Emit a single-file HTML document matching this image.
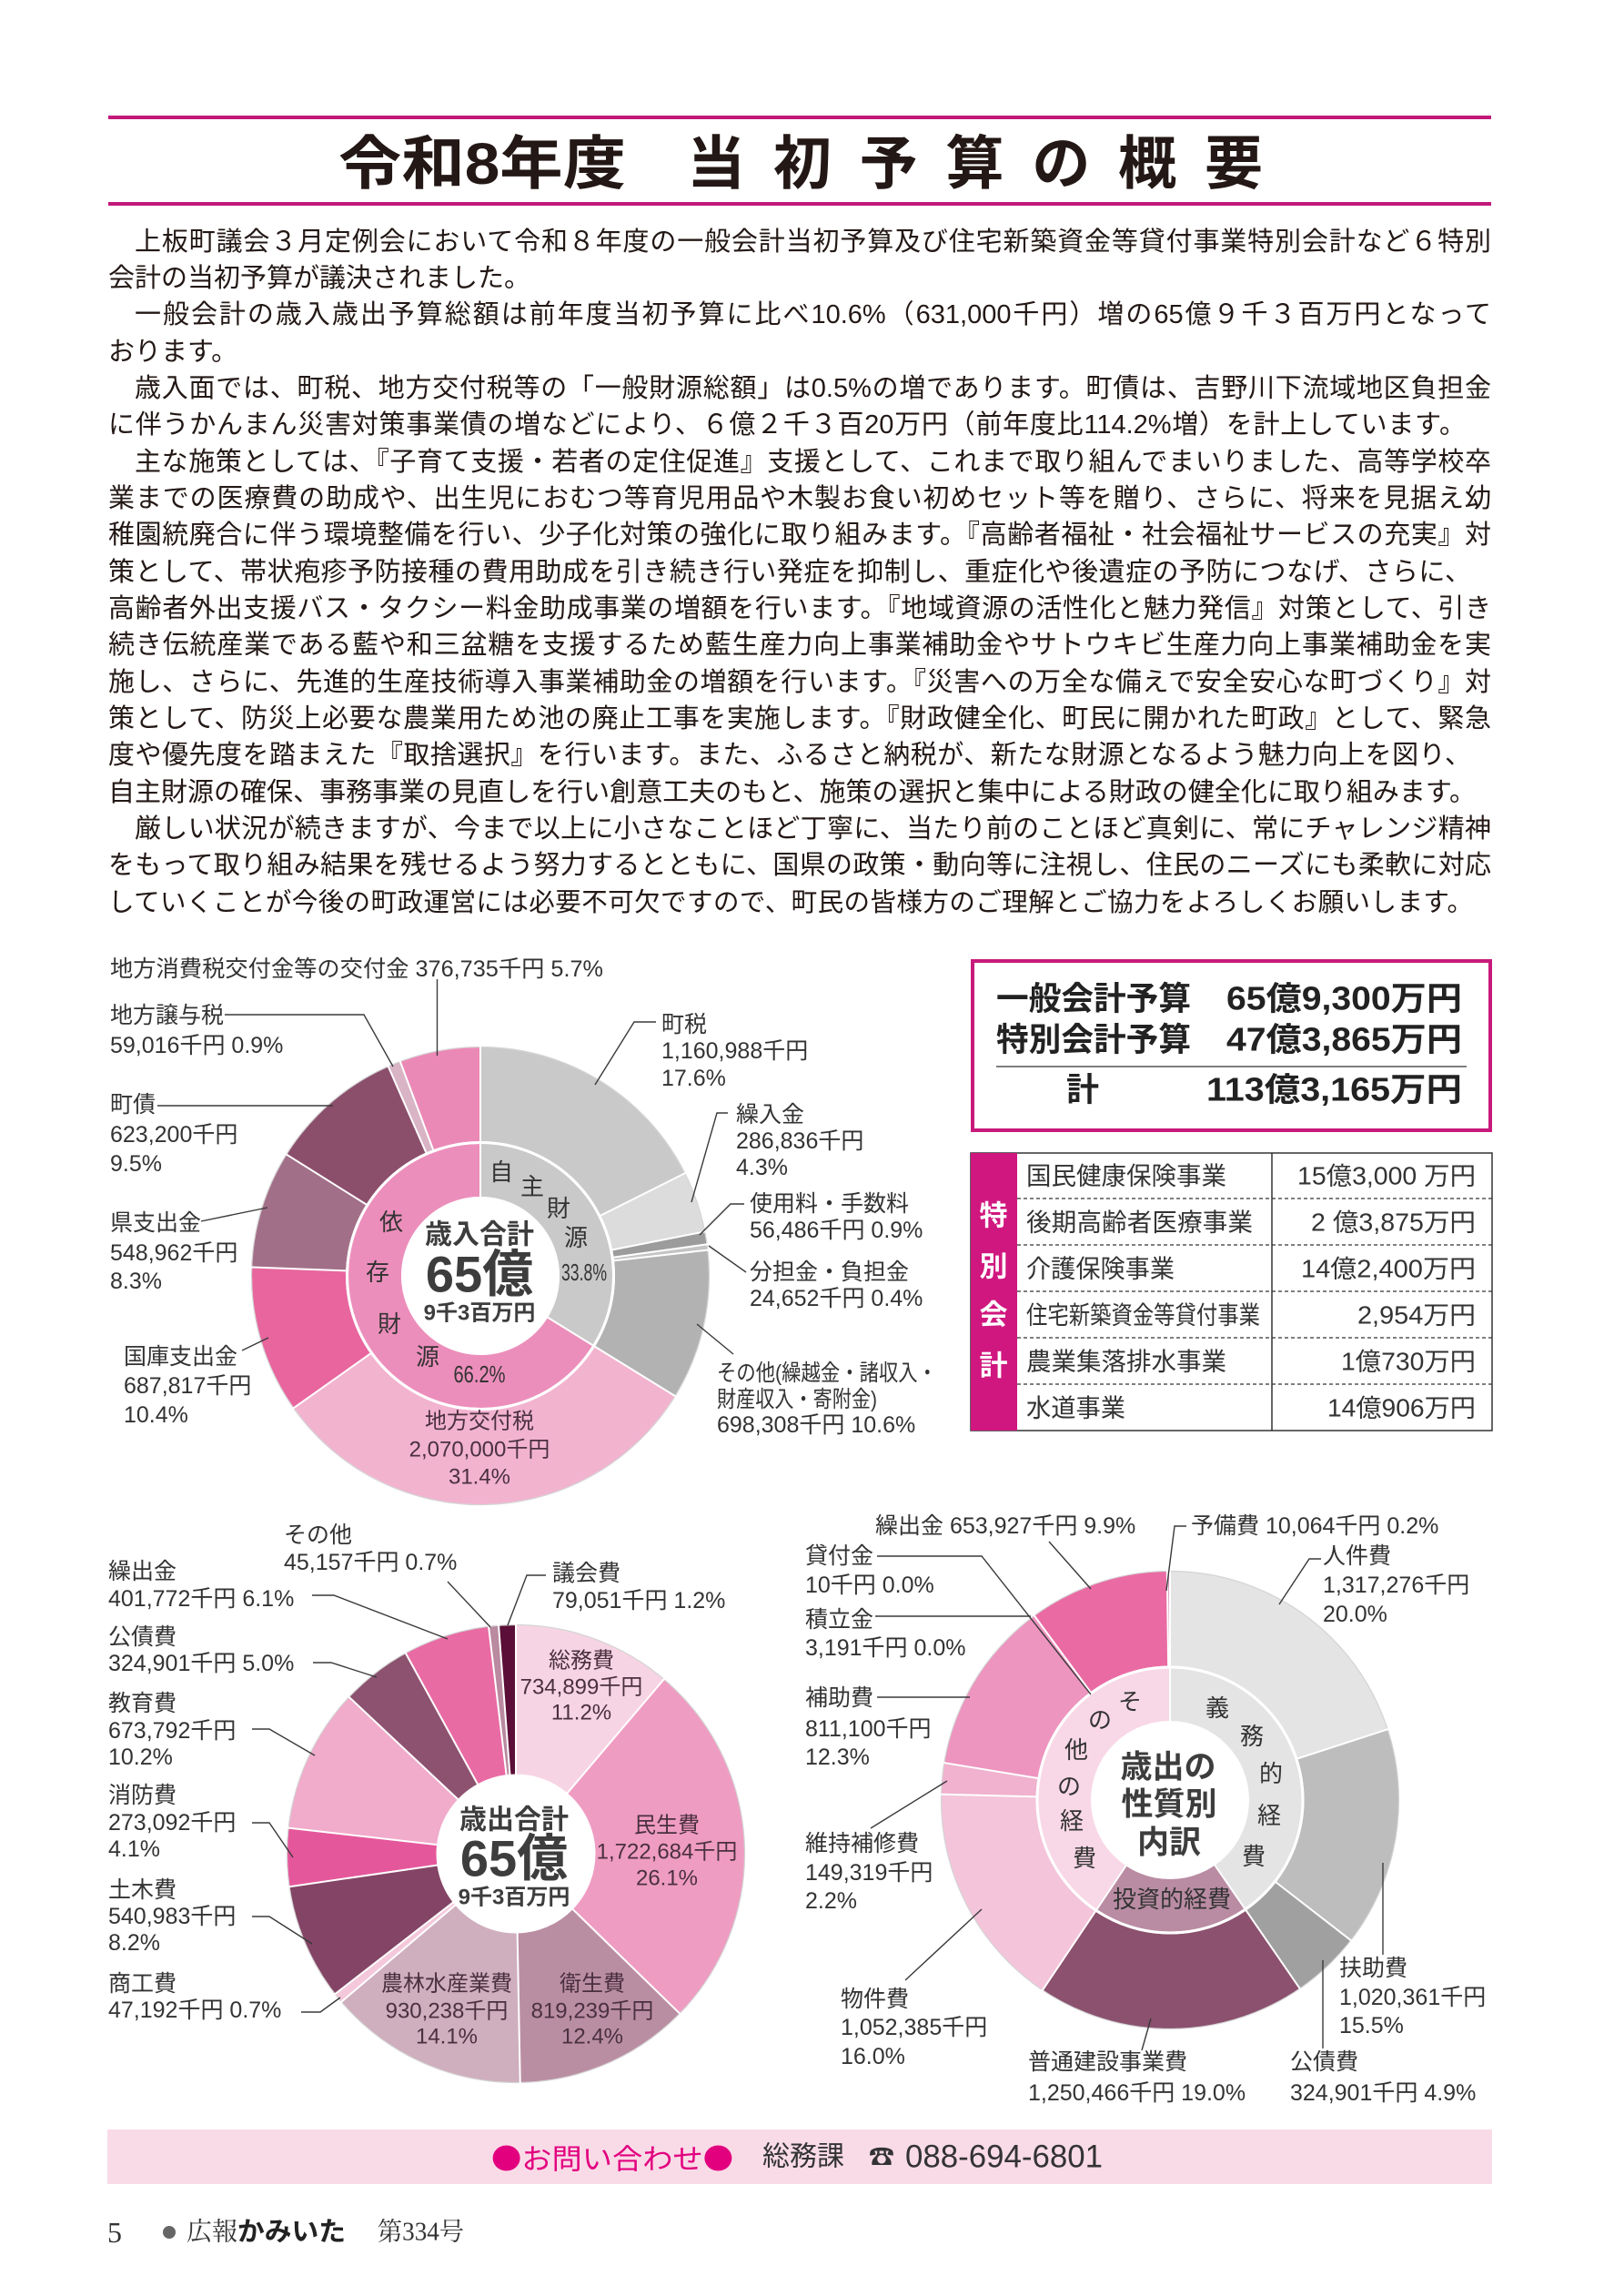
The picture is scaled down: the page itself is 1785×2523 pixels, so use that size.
<!DOCTYPE html>
<html lang="ja"><head><meta charset="utf-8">
<style>
html,body{margin:0;padding:0;background:#fff;}
body{width:1785px;height:2523px;position:relative;overflow:hidden;}
svg{position:absolute;left:0;top:0;}
svg text{font-family:"Liberation Sans","Noto Sans CJK JP",sans-serif;dominant-baseline:central;}
.lb{font-size:25px;fill:#333;}
.il{font-size:24px;fill:#4a3040;text-anchor:middle;}
.rt{font-size:26px;fill:#333;text-anchor:middle;}
.ct{font-weight:bold;fill:#3d3d3d;text-anchor:middle;}
.body{position:absolute;left:119px;top:245.5px;width:1520px;font-family:"Liberation Sans","Noto Sans CJK JP",sans-serif;font-size:29px;line-height:40.35px;color:#231815;}
.body div{height:40.35px;overflow:visible;}
.j{text-align:justify;text-align-last:justify;}
.i{padding-left:29px;}
</style></head><body>
<svg width="1785" height="2523" viewBox="0 0 1785 2523">
<!-- title -->
<rect x="119" y="127" width="1520" height="4" fill="#c2187a"/>
<rect x="119" y="222" width="1520" height="4" fill="#c2187a"/>
<text x="372" y="180" font-size="64" font-weight="bold" fill="#231815" textLength="316" lengthAdjust="spacingAndGlyphs">令和8年度</text>
<text x="755" y="180" font-size="64" font-weight="bold" fill="#231815" textLength="633" lengthAdjust="spacing">当初予算の概要</text>

<!-- ===== Chart 1 (歳入) ===== -->
<g transform="rotate(-90 528 1402)" fill="none" stroke-width="103">
<circle cx="528" cy="1402" r="199.5" pathLength="100" stroke="#c9c9ca" stroke-dasharray="0 0 17.6 100"/>
<circle cx="528" cy="1402" r="199.5" pathLength="100" stroke="#dcdcdd" stroke-dasharray="0 17.6 4.3 100"/>
<circle cx="528" cy="1402" r="199.5" pathLength="100" stroke="#9c9c9c" stroke-dasharray="0 21.9 0.9 100"/>
<circle cx="528" cy="1402" r="199.5" pathLength="100" stroke="#c4c4c4" stroke-dasharray="0 22.8 0.4 100"/>
<circle cx="528" cy="1402" r="199.5" pathLength="100" stroke="#b2b2b3" stroke-dasharray="0 23.2 10.6 100"/>
<circle cx="528" cy="1402" r="199.5" pathLength="100" stroke="#f2b3cf" stroke-dasharray="0 33.8 31.4 100"/>
<circle cx="528" cy="1402" r="199.5" pathLength="100" stroke="#e8659e" stroke-dasharray="0 65.2 10.4 100"/>
<circle cx="528" cy="1402" r="199.5" pathLength="100" stroke="#a26f88" stroke-dasharray="0 75.6 8.3 100"/>
<circle cx="528" cy="1402" r="199.5" pathLength="100" stroke="#8b4f6c" stroke-dasharray="0 83.9 9.5 100"/>
<circle cx="528" cy="1402" r="199.5" pathLength="100" stroke="#d8b4c4" stroke-dasharray="0 93.4 0.9 100"/>
<circle cx="528" cy="1402" r="199.5" pathLength="100" stroke="#eb89b6" stroke-dasharray="0 94.3 5.7 100"/>
<circle cx="528" cy="1402" r="116" stroke-width="58" pathLength="100" stroke="#c9c9ca" stroke-dasharray="0 0 33.8 100"/>
<circle cx="528" cy="1402" r="116" stroke-width="58" pathLength="100" stroke="#ec8ebb" stroke-dasharray="0 33.8 66.2 100"/>
</g>
<circle cx="528" cy="1402" r="251.5" fill="none" stroke="#d4d4d4" stroke-width="1.2"/>
<g stroke="#fff" stroke-width="2">
<line x1="528" y1="1254" x2="528" y2="1148"/>
<line x1="528" y1="1254" x2="528" y2="1148" transform="rotate(63.36 528 1402)"/>
<line x1="528" y1="1254" x2="528" y2="1148" transform="rotate(78.84 528 1402)"/>
<line x1="528" y1="1254" x2="528" y2="1148" transform="rotate(82.08 528 1402)"/>
<line x1="528" y1="1254" x2="528" y2="1148" transform="rotate(83.52 528 1402)"/>
<line x1="528" y1="1254" x2="528" y2="1148" transform="rotate(121.68 528 1402)"/>
<line x1="528" y1="1254" x2="528" y2="1148" transform="rotate(234.72 528 1402)"/>
<line x1="528" y1="1254" x2="528" y2="1148" transform="rotate(272.16 528 1402)"/>
<line x1="528" y1="1254" x2="528" y2="1148" transform="rotate(302.04 528 1402)"/>
<line x1="528" y1="1254" x2="528" y2="1148" transform="rotate(336.24 528 1402)"/>
<line x1="528" y1="1254" x2="528" y2="1148" transform="rotate(339.48 528 1402)"/>
<line x1="528" y1="1317" x2="528" y2="1254"/>
<line x1="528" y1="1317" x2="528" y2="1254" transform="rotate(121.68 528 1402)"/>
</g>
<circle cx="528" cy="1402" r="146.5" fill="none" stroke="#fff" stroke-width="3"/>
<circle cx="528" cy="1402" r="87" fill="#fff"/>
<!-- chart1 center -->
<text class="ct" x="527" y="1357" font-size="30">歳入合計</text>
<text class="ct" x="527" y="1400" font-size="56">65億</text>
<text class="ct" x="527" y="1443" font-size="24">9千3百万円</text>
<!-- chart1 ring text -->
<text class="rt" x="551" y="1288">自</text>
<text class="rt" x="585" y="1304">主</text>
<text class="rt" x="614" y="1328">財</text>
<text class="rt" x="633" y="1360">源</text>
<text class="rt" x="642" y="1398" font-size="21" textLength="50" lengthAdjust="spacingAndGlyphs">33.8%</text>
<text class="rt" x="430" y="1343" fill="#4a1d33">依</text>
<text class="rt" x="415" y="1398" fill="#4a1d33">存</text>
<text class="rt" x="428" y="1455" fill="#4a1d33">財</text>
<text class="rt" x="470" y="1491" fill="#4a1d33">源</text>
<text class="rt" x="527" y="1510" font-size="21" fill="#4a1d33" textLength="57" lengthAdjust="spacingAndGlyphs">66.2%</text>
<text class="il" x="527" y="1562">地方交付税</text>
<text class="il" x="527" y="1593">2,070,000千円</text>
<text class="il" x="527" y="1623">31.4%</text>
<!-- chart1 labels -->
<g class="lb">
<text class="lb" x="121" y="1065" textLength="542" lengthAdjust="spacingAndGlyphs">地方消費税交付金等の交付金 376,735千円 5.7%</text>
<text class="lb" x="121" y="1116">地方譲与税</text>
<text class="lb" x="121" y="1149">59,016千円 0.9%</text>
<text class="lb" x="121" y="1214">町債</text>
<text class="lb" x="121" y="1247">623,200千円</text>
<text class="lb" x="121" y="1279">9.5%</text>
<text class="lb" x="121" y="1344">県支出金</text>
<text class="lb" x="121" y="1377">548,962千円</text>
<text class="lb" x="121" y="1408">8.3%</text>
<text class="lb" x="136" y="1491">国庫支出金</text>
<text class="lb" x="136" y="1523">687,817千円</text>
<text class="lb" x="136" y="1555">10.4%</text>
<text class="lb" x="727" y="1126">町税</text>
<text class="lb" x="727" y="1155">1,160,988千円</text>
<text class="lb" x="727" y="1185">17.6%</text>
<text class="lb" x="809" y="1225">繰入金</text>
<text class="lb" x="809" y="1254">286,836千円</text>
<text class="lb" x="809" y="1283">4.3%</text>
<text class="lb" x="824" y="1323">使用料・手数料</text>
<text class="lb" x="824" y="1352">56,486千円 0.9%</text>
<text class="lb" x="824" y="1398">分担金・負担金</text>
<text class="lb" x="824" y="1427">24,652千円 0.4%</text>
<text class="lb" x="788" y="1509" textLength="242" lengthAdjust="spacingAndGlyphs">その他(繰越金・諸収入・</text>
<text class="lb" x="788" y="1538" textLength="176" lengthAdjust="spacingAndGlyphs">財産収入・寄附金)</text>
<text class="lb" x="788" y="1566">698,308千円 10.6%</text>
</g>
<g fill="none" stroke="#3a3a3a" stroke-width="1.4">
<path d="M480.5 1076V1160"/>
<path d="M247 1115H400L432 1172"/>
<path d="M173 1215H366"/>
<path d="M221 1342L294 1327"/>
<path d="M266 1484L295 1470"/>
<path d="M721 1123H697L654 1192"/>
<path d="M800 1223H788L760 1321"/>
<path d="M818 1323H803L769 1357"/>
<path d="M820 1398L779 1369"/>
<path d="M806 1488L766 1455"/>
</g>

<!-- ===== Summary box ===== -->
<rect x="1069" y="1056" width="569" height="186" fill="#fff" stroke="#c81a7c" stroke-width="4"/>
<g font-weight="bold" fill="#222" font-size="36">
<text x="1095" y="1097" textLength="214" lengthAdjust="spacingAndGlyphs">一般会計予算</text>
<text x="1348" y="1097" textLength="259" lengthAdjust="spacingAndGlyphs">65億9,300万円</text>
<text x="1095" y="1142" textLength="214" lengthAdjust="spacingAndGlyphs">特別会計予算</text>
<text x="1348" y="1142" textLength="259" lengthAdjust="spacingAndGlyphs">47億3,865万円</text>
<text x="1172" y="1197">計</text>
<text x="1326" y="1197" textLength="281" lengthAdjust="spacingAndGlyphs">113億3,165万円</text>
</g>
<line x1="1095" y1="1172" x2="1612" y2="1172" stroke="#333" stroke-width="1.2"/>

<!-- ===== Special accounts table ===== -->
<rect x="1067" y="1267" width="573" height="305" fill="#fff" stroke="#333" stroke-width="1.5"/>
<rect x="1067" y="1267" width="51" height="305" fill="#d0177f"/>
<line x1="1398" y1="1267" x2="1398" y2="1572" stroke="#333" stroke-width="1.5"/>
<g stroke="#333" stroke-width="1.3" stroke-dasharray="4 3">
<line x1="1118" y1="1317" x2="1640" y2="1317"/>
<line x1="1118" y1="1368" x2="1640" y2="1368"/>
<line x1="1118" y1="1419" x2="1640" y2="1419"/>
<line x1="1118" y1="1470" x2="1640" y2="1470"/>
<line x1="1118" y1="1521" x2="1640" y2="1521"/>
</g>
<g font-weight="bold" fill="#fff" font-size="31" text-anchor="middle">
<text x="1092" y="1336">特</text>
<text x="1092" y="1392">別</text>
<text x="1092" y="1445">会</text>
<text x="1092" y="1501">計</text>
</g>
<g font-size="27.5" fill="#333">
<text x="1128" y="1292" textLength="220" lengthAdjust="spacingAndGlyphs">国民健康保険事業</text>
<text x="1128" y="1343" textLength="249" lengthAdjust="spacingAndGlyphs">後期高齢者医療事業</text>
<text x="1128" y="1394" textLength="163" lengthAdjust="spacingAndGlyphs">介護保険事業</text>
<text x="1128" y="1445" textLength="257" lengthAdjust="spacingAndGlyphs">住宅新築資金等貸付事業</text>
<text x="1128" y="1496" textLength="220" lengthAdjust="spacingAndGlyphs">農業集落排水事業</text>
<text x="1128" y="1547" textLength="109" lengthAdjust="spacingAndGlyphs">水道事業</text>
<text x="1426" y="1292" textLength="196" lengthAdjust="spacingAndGlyphs">15億3,000 万円</text>
<text x="1441" y="1343" textLength="181" lengthAdjust="spacingAndGlyphs">2 億3,875万円</text>
<text x="1430" y="1394" textLength="192" lengthAdjust="spacingAndGlyphs">14億2,400万円</text>
<text x="1492" y="1445" textLength="130" lengthAdjust="spacingAndGlyphs">2,954万円</text>
<text x="1474" y="1496" textLength="148" lengthAdjust="spacingAndGlyphs">1億730万円</text>
<text x="1459" y="1547" textLength="163" lengthAdjust="spacingAndGlyphs">14億906万円</text>
</g>

<!-- ===== Chart 2 (歳出 目的別) ===== -->
<g transform="rotate(-90 567 2037)" fill="none" stroke-width="164">
<circle cx="567" cy="2037" r="169.5" pathLength="100" stroke="#f7d4e3" stroke-dasharray="0 0 11.2 100"/>
<circle cx="567" cy="2037" r="169.5" pathLength="100" stroke="#ef9cc2" stroke-dasharray="0 11.2 26.1 100"/>
<circle cx="567" cy="2037" r="169.5" pathLength="100" stroke="#ba8ea2" stroke-dasharray="0 37.3 12.4 100"/>
<circle cx="567" cy="2037" r="169.5" pathLength="100" stroke="#cfaebd" stroke-dasharray="0 49.7 14.1 100"/>
<circle cx="567" cy="2037" r="169.5" pathLength="100" stroke="#f4c8da" stroke-dasharray="0 63.8 0.7 100"/>
<circle cx="567" cy="2037" r="169.5" pathLength="100" stroke="#834465" stroke-dasharray="0 64.5 8.2 100"/>
<circle cx="567" cy="2037" r="169.5" pathLength="100" stroke="#e5579b" stroke-dasharray="0 72.7 4.1 100"/>
<circle cx="567" cy="2037" r="169.5" pathLength="100" stroke="#f1abcb" stroke-dasharray="0 76.8 10.2 100"/>
<circle cx="567" cy="2037" r="169.5" pathLength="100" stroke="#8d5270" stroke-dasharray="0 87 5 100"/>
<circle cx="567" cy="2037" r="169.5" pathLength="100" stroke="#e96ba4" stroke-dasharray="0 92 6.1 100"/>
<circle cx="567" cy="2037" r="169.5" pathLength="100" stroke="#b98aa0" stroke-dasharray="0 98.1 0.7 100"/>
<circle cx="567" cy="2037" r="169.5" pathLength="100" stroke="#5b0e37" stroke-dasharray="0 98.8 1.2 100"/>
</g>
<circle cx="567" cy="2037" r="251.5" fill="none" stroke="#d4d4d4" stroke-width="1.2"/>
<g stroke="#fff" stroke-width="2">
<line x1="567" y1="1951" x2="567" y2="1783"/>
<line x1="567" y1="1951" x2="567" y2="1783" transform="rotate(40.32 567 2037)"/>
<line x1="567" y1="1951" x2="567" y2="1783" transform="rotate(134.28 567 2037)"/>
<line x1="567" y1="1951" x2="567" y2="1783" transform="rotate(178.92 567 2037)"/>
<line x1="567" y1="1951" x2="567" y2="1783" transform="rotate(229.68 567 2037)"/>
<line x1="567" y1="1951" x2="567" y2="1783" transform="rotate(232.2 567 2037)"/>
<line x1="567" y1="1951" x2="567" y2="1783" transform="rotate(261.72 567 2037)"/>
<line x1="567" y1="1951" x2="567" y2="1783" transform="rotate(276.48 567 2037)"/>
<line x1="567" y1="1951" x2="567" y2="1783" transform="rotate(313.2 567 2037)"/>
<line x1="567" y1="1951" x2="567" y2="1783" transform="rotate(331.2 567 2037)"/>
<line x1="567" y1="1951" x2="567" y2="1783" transform="rotate(353.16 567 2037)"/>
<line x1="567" y1="1951" x2="567" y2="1783" transform="rotate(355.68 567 2037)"/>
</g>
<circle cx="567" cy="2037" r="86" fill="#fff"/>
<text class="ct" x="565" y="2000" font-size="30">歳出合計</text>
<text class="ct" x="565" y="2042" font-size="56">65億</text>
<text class="ct" x="565" y="2085" font-size="24">9千3百万円</text>
<text class="il" x="639" y="1825">総務費</text>
<text class="il" x="639" y="1854">734,899千円</text>
<text class="il" x="639" y="1882">11.2%</text>
<text class="il" x="733" y="2006">民生費</text>
<text class="il" x="733" y="2035">1,722,684千円</text>
<text class="il" x="733" y="2064">26.1%</text>
<text class="il" x="651" y="2180">衛生費</text>
<text class="il" x="651" y="2210">819,239千円</text>
<text class="il" x="651" y="2238">12.4%</text>
<text class="il" x="491" y="2180">農林水産業費</text>
<text class="il" x="491" y="2210">930,238千円</text>
<text class="il" x="491" y="2238">14.1%</text>
<text class="lb" x="312" y="1687">その他</text>
<text class="lb" x="312" y="1717">45,157千円 0.7%</text>
<text class="lb" x="607" y="1729">議会費</text>
<text class="lb" x="607" y="1759">79,051千円 1.2%</text>
<text class="lb" x="119" y="1727">繰出金</text>
<text class="lb" x="119" y="1757">401,772千円 6.1%</text>
<text class="lb" x="119" y="1799">公債費</text>
<text class="lb" x="119" y="1828">324,901千円 5.0%</text>
<text class="lb" x="119" y="1872">教育費</text>
<text class="lb" x="119" y="1902">673,792千円</text>
<text class="lb" x="119" y="1931">10.2%</text>
<text class="lb" x="119" y="1973">消防費</text>
<text class="lb" x="119" y="2003">273,092千円</text>
<text class="lb" x="119" y="2032">4.1%</text>
<text class="lb" x="119" y="2077">土木費</text>
<text class="lb" x="119" y="2106">540,983千円</text>
<text class="lb" x="119" y="2135">8.2%</text>
<text class="lb" x="119" y="2180">商工費</text>
<text class="lb" x="119" y="2209">47,192千円 0.7%</text>
<g fill="none" stroke="#3a3a3a" stroke-width="1.4">
<path d="M492 1738L539 1788"/>
<path d="M600 1731H579L558 1786"/>
<path d="M343 1753H367L492 1801"/>
<path d="M344 1827H364L414 1843"/>
<path d="M277 1900H296L346 1929"/>
<path d="M277 2003H296L322 2041"/>
<path d="M277 2106H296L343 2136"/>
<path d="M331 2211H352L374 2195"/>
</g>

<!-- ===== Chart 3 (性質別) ===== -->
<g transform="rotate(-90 1286 1978)" fill="none" stroke-width="104">
<circle cx="1286" cy="1978" r="199.5" pathLength="100" stroke="#e4e4e4" stroke-dasharray="0 0 20 100"/>
<circle cx="1286" cy="1978" r="199.5" pathLength="100" stroke="#bdbdbe" stroke-dasharray="0 20 15.5 100"/>
<circle cx="1286" cy="1978" r="199.5" pathLength="100" stroke="#a0a0a0" stroke-dasharray="0 35.5 4.9 100"/>
<circle cx="1286" cy="1978" r="199.5" pathLength="100" stroke="#8b516e" stroke-dasharray="0 40.4 19 100"/>
<circle cx="1286" cy="1978" r="199.5" pathLength="100" stroke="#f4c4da" stroke-dasharray="0 59.4 16 100"/>
<circle cx="1286" cy="1978" r="199.5" pathLength="100" stroke="#f0b2ce" stroke-dasharray="0 75.4 2.2 100"/>
<circle cx="1286" cy="1978" r="199.5" pathLength="100" stroke="#ed94bf" stroke-dasharray="0 77.6 12.3 100"/>
<circle cx="1286" cy="1978" r="199.5" pathLength="100" stroke="#ea6ba4" stroke-dasharray="0 89.9 9.9 100"/>
<circle cx="1286" cy="1978" r="199.5" pathLength="100" stroke="#d99abb" stroke-dasharray="0 99.8 0.2 100"/>
<circle cx="1286" cy="1978" r="115.5" stroke-width="58" pathLength="100" stroke="#e4e4e4" stroke-dasharray="0 0 40.4 100"/>
<circle cx="1286" cy="1978" r="115.5" stroke-width="58" pathLength="100" stroke="#b98ca3" stroke-dasharray="0 40.4 19 100"/>
<circle cx="1286" cy="1978" r="115.5" stroke-width="58" pathLength="100" stroke="#f8d8e6" stroke-dasharray="0 59.4 40.6 100"/>
</g>
<circle cx="1286" cy="1978" r="251.5" fill="none" stroke="#d4d4d4" stroke-width="1.2"/>
<g stroke="#fff" stroke-width="2">
<line x1="1286" y1="1832" x2="1286" y2="1724"/>
<line x1="1286" y1="1832" x2="1286" y2="1724" transform="rotate(72 1286 1978)"/>
<line x1="1286" y1="1832" x2="1286" y2="1724" transform="rotate(127.8 1286 1978)"/>
<line x1="1286" y1="1832" x2="1286" y2="1724" transform="rotate(145.44 1286 1978)"/>
<line x1="1286" y1="1832" x2="1286" y2="1724" transform="rotate(213.84 1286 1978)"/>
<line x1="1286" y1="1832" x2="1286" y2="1724" transform="rotate(271.44 1286 1978)"/>
<line x1="1286" y1="1832" x2="1286" y2="1724" transform="rotate(279.36 1286 1978)"/>
<line x1="1286" y1="1832" x2="1286" y2="1724" transform="rotate(323.64 1286 1978)"/>
<line x1="1286" y1="1832" x2="1286" y2="1724" transform="rotate(359.28 1286 1978)"/>
<line x1="1286" y1="1892" x2="1286" y2="1832"/>
<line x1="1286" y1="1892" x2="1286" y2="1832" transform="rotate(145.44 1286 1978)"/>
<line x1="1286" y1="1892" x2="1286" y2="1832" transform="rotate(213.84 1286 1978)"/>
</g>
<circle cx="1286" cy="1978" r="146" fill="none" stroke="#fff" stroke-width="3"/>
<circle cx="1286" cy="1978" r="87" fill="#fff"/>
<text class="ct" x="1284" y="1942" font-size="35">歳出の</text>
<text class="ct" x="1285" y="1983" font-size="35">性質別</text>
<text class="ct" x="1285" y="2025" font-size="35">内訳</text>
<text class="rt" x="1338" y="1877">義</text>
<text class="rt" x="1376" y="1908">務</text>
<text class="rt" x="1397" y="1949">的</text>
<text class="rt" x="1395" y="1995">経</text>
<text class="rt" x="1378" y="2040">費</text>
<text class="rt" x="1242" y="1870">そ</text>
<text class="rt" x="1209" y="1890">の</text>
<text class="rt" x="1183" y="1923">他</text>
<text class="rt" x="1175" y="1963">の</text>
<text class="rt" x="1178" y="2001">経</text>
<text class="rt" x="1192" y="2042">費</text>
<text class="rt" x="1288" y="2087" font-size="24">投資的経費</text>
<text class="lb" x="962" y="1677">繰出金 653,927千円 9.9%</text>
<text class="lb" x="1309" y="1677">予備費 10,064千円 0.2%</text>
<text class="lb" x="885" y="1710">貸付金</text>
<text class="lb" x="885" y="1742">10千円 0.0%</text>
<text class="lb" x="885" y="1780">積立金</text>
<text class="lb" x="885" y="1811">3,191千円 0.0%</text>
<text class="lb" x="885" y="1866">補助費</text>
<text class="lb" x="885" y="1900">811,100千円</text>
<text class="lb" x="885" y="1931">12.3%</text>
<text class="lb" x="885" y="2026">維持補修費</text>
<text class="lb" x="885" y="2058">149,319千円</text>
<text class="lb" x="885" y="2089">2.2%</text>
<text class="lb" x="924" y="2197">物件費</text>
<text class="lb" x="924" y="2228">1,052,385千円</text>
<text class="lb" x="924" y="2260">16.0%</text>
<text class="lb" x="1130" y="2266">普通建設事業費</text>
<text class="lb" x="1130" y="2300">1,250,466千円 19.0%</text>
<text class="lb" x="1418" y="2266">公債費</text>
<text class="lb" x="1418" y="2300">324,901千円 4.9%</text>
<text class="lb" x="1472" y="2163">扶助費</text>
<text class="lb" x="1472" y="2195">1,020,361千円</text>
<text class="lb" x="1472" y="2226">15.5%</text>
<text class="lb" x="1454" y="1710">人件費</text>
<text class="lb" x="1454" y="1742">1,317,276千円</text>
<text class="lb" x="1454" y="1774">20.0%</text>
<g fill="none" stroke="#3a3a3a" stroke-width="1.4">
<path d="M1153 1694L1199 1746"/>
<path d="M1304 1677H1291L1282 1748"/>
<path d="M964 1710H1079L1199 1862"/>
<path d="M962 1776H1133"/>
<path d="M964 1865H1066"/>
<path d="M957 2009L1041 1957"/>
<path d="M995 2176L1079 2098"/>
<path d="M1255 2253L1265 2218"/>
<path d="M1454 2251V2154"/>
<path d="M1520 2148V2047"/>
<path d="M1452 1713H1439L1406 1763"/>
</g>

<!-- ===== Contact bar ===== -->
<rect x="118" y="2340" width="1522" height="60" fill="#f9dbe7"/>
<text x="540" y="2370" font-size="31" fill="#e2007f" textLength="266" lengthAdjust="spacingAndGlyphs" style="font-family:'Noto Sans CJK JP',sans-serif">●お問い合わせ●</text>
<text x="838" y="2370" font-size="30" fill="#333" textLength="90" lengthAdjust="spacingAndGlyphs">総務課</text>
<text x="955" y="2370" font-size="28" fill="#333">☎</text>
<text x="995" y="2370" font-size="35" fill="#333" textLength="217" lengthAdjust="spacingAndGlyphs">088-694-6801</text>

<!-- ===== Footer ===== -->
<text x="118" y="2453" font-size="32" fill="#333" style="font-family:'Liberation Serif',serif">5</text>
<circle cx="186" cy="2453" r="7" fill="#666"/>
<text x="205" y="2453" font-size="28" fill="#333" style="font-family:'Liberation Serif','Noto Serif CJK SC',serif">広報</text>
<text x="261" y="2453" font-size="29" fill="#222" font-weight="bold" textLength="119" lengthAdjust="spacingAndGlyphs">かみいた</text>
<text x="415" y="2453" font-size="28" fill="#333" textLength="95" lengthAdjust="spacingAndGlyphs" style="font-family:'Liberation Serif','Noto Serif CJK SC',serif">第334号</text>
</svg>

<div class="body">
<div class="j i">上板町議会３月定例会において令和８年度の一般会計当初予算及び住宅新築資金等貸付事業特別会計など６特別</div>
<div>会計の当初予算が議決されました。</div>
<div class="j i">一般会計の歳入歳出予算総額は前年度当初予算に比べ10.6%（631,000千円）増の65億９千３百万円となって</div>
<div>おります。</div>
<div class="j i">歳入面では、町税、地方交付税等の「一般財源総額」は0.5%の増であります。町債は、吉野川下流域地区負担金</div>
<div class="j" style="width:1492px">に伴うかんまん災害対策事業債の増などにより、６億２千３百20万円（前年度比114.2%増）を計上しています。</div>
<div class="j i">主な施策としては、『子育て支援・若者の定住促進』支援として、これまで取り組んでまいりました、高等学校卒</div>
<div class="j">業までの医療費の助成や、出生児におむつ等育児用品や木製お食い初めセット等を贈り、さらに、将来を見据え幼</div>
<div class="j">稚園統廃合に伴う環境整備を行い、少子化対策の強化に取り組みます。『高齢者福祉・社会福祉サービスの充実』対</div>
<div class="j" style="width:1498px">策として、帯状疱疹予防接種の費用助成を引き続き行い発症を抑制し、重症化や後遺症の予防につなげ、さらに、</div>
<div class="j">高齢者外出支援バス・タクシー料金助成事業の増額を行います。『地域資源の活性化と魅力発信』対策として、引き</div>
<div class="j">続き伝統産業である藍や和三盆糖を支援するため藍生産力向上事業補助金やサトウキビ生産力向上事業補助金を実</div>
<div class="j">施し、さらに、先進的生産技術導入事業補助金の増額を行います。『災害への万全な備えで安全安心な町づくり』対</div>
<div class="j">策として、防災上必要な農業用ため池の廃止工事を実施します。『財政健全化、町民に開かれた町政』として、緊急</div>
<div class="j" style="width:1498px">度や優先度を踏まえた『取捨選択』を行います。また、ふるさと納税が、新たな財源となるよう魅力向上を図り、</div>
<div class="j" style="width:1503px">自主財源の確保、事務事業の見直しを行い創意工夫のもと、施策の選択と集中による財政の健全化に取り組みます。</div>
<div class="j i">厳しい状況が続きますが、今まで以上に小さなことほど丁寧に、当たり前のことほど真剣に、常にチャレンジ精神</div>
<div class="j">をもって取り組み結果を残せるよう努力するとともに、国県の政策・動向等に注視し、住民のニーズにも柔軟に対応</div>
<div class="j" style="width:1500px;font-size:28.5px">していくことが今後の町政運営には必要不可欠ですので、町民の皆様方のご理解とご協力をよろしくお願いします。</div>
</div>
</body></html>
